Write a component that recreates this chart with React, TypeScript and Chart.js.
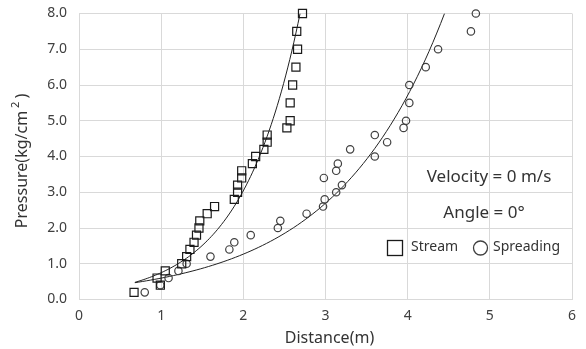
import React, { useEffect, useRef } from "react";
import { Chart, registerables } from "chart.js";

Chart.register(...registerables);

// ---- data ----
const streamX = [0.67, 0.95, 0.99, 1.05, 1.25, 1.31, 1.35, 1.40, 1.43, 1.46, 1.47, 1.56, 1.65, 1.89, 1.93, 1.93, 1.98, 1.98, 2.11, 2.15, 2.25, 2.29, 2.29, 2.53, 2.57, 2.57, 2.60, 2.64, 2.66, 2.65, 2.72];
const streamY = [0.2, 0.6, 0.4, 0.8, 1.0, 1.2, 1.4, 1.6, 1.8, 2.0, 2.2, 2.4, 2.6, 2.8, 3.0, 3.2, 3.4, 3.6, 3.8, 4.0, 4.2, 4.4, 4.6, 4.8, 5.0, 5.5, 6.0, 6.5, 7.0, 7.5, 8.0];

const spreadX = [0.80, 0.99, 1.09, 1.21, 1.31, 1.60, 1.83, 1.89, 2.09, 2.42, 2.45, 2.77, 2.97, 2.99, 3.13, 3.20, 2.98, 3.13, 3.15, 3.60, 3.30, 3.75, 3.60, 3.95, 3.98, 4.02, 4.02, 4.22, 4.37, 4.77, 4.83];
const spreadY = [0.2, 0.4, 0.6, 0.8, 1.0, 1.2, 1.4, 1.6, 1.8, 2.0, 2.2, 2.4, 2.6, 2.8, 3.0, 3.2, 3.4, 3.6, 3.8, 4.0, 4.2, 4.4, 4.6, 4.8, 5.0, 5.5, 6.0, 6.5, 7.0, 7.5, 8.0];

// exponential trendlines y = a * e^(b x), coefficients
const streamTrend = { a: 0.185, b: 1.4, xStart: 0.68 };
const spreadTrend = { a: 0.282, b: 0.752, xStart: 0.68 };

const xMin = 0, xMax = 6, xStep = 1;
const yMin = 0, yMax = 8, yStep = 1;

const seriesNames = ["Stream", "Spreading"];
const xTitle = "Distance(m)";
const yTitleMain = "Pressure(kg/cm";
const yTitleSup = "2";
const yTitleEnd = ")";
const noteLines = ["Velocity = 0 m/s", "Angle = 0°"];

const FONT = "'Noto Sans', 'Open Sans', sans-serif";
const TEXT = "#333333";

function trendPoints(t: { a: number; b: number; xStart: number }) {
  const xEnd = Math.log(yMax / t.a) / t.b;
  const n = 80;
  const pts: { x: number; y: number }[] = [];
  for (let i = 0; i <= n; i++) {
    const x = t.xStart + ((xEnd - t.xStart) * i) / n;
    pts.push({ x, y: t.a * Math.exp(t.b * x) });
  }
  return pts;
}

const overlay = {
  id: "overlay",
  afterDraw(chart: any) {
    const ctx = chart.ctx as CanvasRenderingContext2D;
    const area = chart.chartArea;
    ctx.save();
    ctx.fillStyle = TEXT;

    // x title
    ctx.font = `16px ${FONT}`;
    ctx.textAlign = "center";
    ctx.textBaseline = "middle";
    ctx.fillText(xTitle, (area.left + area.right) / 2 + 4, 338);

    // y title with superscript
    ctx.save();
    ctx.translate(22, 161);
    ctx.rotate(-Math.PI / 2);
    ctx.font = `16px ${FONT}`;
    const w1 = ctx.measureText(yTitleMain).width;
    ctx.font = `11px ${FONT}`;
    const w2 = ctx.measureText(yTitleSup).width + 6;
    ctx.font = `16px ${FONT}`;
    const w3 = ctx.measureText(yTitleEnd).width;
    const total = w1 + w2 + w3;
    const x0 = -total / 2;
    ctx.textAlign = "left";
    ctx.textBaseline = "middle";
    ctx.fillText(yTitleMain, x0, 0);
    ctx.font = `11px ${FONT}`;
    ctx.fillText(yTitleSup, x0 + w1 + 3, -6);
    ctx.font = `16px ${FONT}`;
    ctx.fillText(yTitleEnd, x0 + w1 + w2, 0);
    ctx.restore();

    // notes
    ctx.font = `17px ${FONT}`;
    ctx.textAlign = "center";
    ctx.textBaseline = "middle";
    ctx.fillText(noteLines[0], 489, 177);
    ctx.fillText(noteLines[1], 484, 213);

    // legend
    ctx.strokeStyle = "#1a1a1a";
    ctx.lineWidth = 1.3;
    ctx.strokeRect(387.5, 240.5, 15, 15);
    ctx.strokeStyle = "#404040";
    ctx.beginPath();
    ctx.arc(480.5, 248, 7, 0, Math.PI * 2);
    ctx.stroke();
    ctx.font = `14px ${FONT}`;
    ctx.textAlign = "left";
    ctx.fillText(seriesNames[0], 411, 247);
    ctx.fillText(seriesNames[1], 493, 247);
    ctx.restore();
  },
};

export default function App() {
  const ref = useRef<HTMLCanvasElement | null>(null);
  useEffect(() => {
    if (!ref.current) return;
    const chart = new Chart(ref.current, {
      type: "scatter",
      data: {
        datasets: [
          {
            label: seriesNames[0],
            data: streamX.map((x, i) => ({ x, y: streamY[i] })),
            pointStyle: "rect",
            pointRadius: 5.7,
            borderColor: "#1a1a1a",
            backgroundColor: "rgba(0,0,0,0)",
            borderWidth: 1.2,
            showLine: false,
            clip: false,
          },
          {
            label: seriesNames[1],
            data: spreadX.map((x, i) => ({ x, y: spreadY[i] })),
            pointStyle: "circle",
            pointRadius: 3.7,
            borderColor: "#404040",
            backgroundColor: "rgba(0,0,0,0)",
            borderWidth: 1.2,
            showLine: false,
            clip: false,
          },
          {
            label: "streamTrend",
            data: trendPoints(streamTrend),
            showLine: true,
            pointRadius: 0,
            borderColor: "#222222",
            borderWidth: 1,
            tension: 0,
          },
          {
            label: "spreadTrend",
            data: trendPoints(spreadTrend),
            showLine: true,
            pointRadius: 0,
            borderColor: "#222222",
            borderWidth: 1,
            tension: 0,
          },
        ],
      },
      options: {
        animation: false,
        responsive: false,
        layout: { padding: { top: 13.5, right: 14, left: 0, bottom: 0 } },
        plugins: { legend: { display: false }, tooltip: { enabled: false } },
        scales: {
          x: {
            type: "linear",
            min: xMin,
            max: xMax,
            ticks: { stepSize: xStep, padding: 8, color: "#404040", font: { family: FONT, size: 14 } },
            grid: { color: "#d9d9d9", drawTicks: false },
            border: { color: "#d9d9d9" },
            afterFit: (s: any) => { s.height = 49.5; s.paddingLeft = 0; s.paddingRight = 0; },
          },
          y: {
            type: "linear",
            min: yMin,
            max: yMax,
            ticks: {
              stepSize: yStep,
              padding: 12,
              color: "#404040",
              font: { family: FONT, size: 14 },
              callback: (v: any) => Number(v).toFixed(1),
            },
            grid: { color: "#d9d9d9", drawTicks: false },
            border: { color: "#d9d9d9" },
            afterFit: (s: any) => { s.width = 79; s.paddingTop = 0; s.paddingBottom = 0; },
          },
        },
      },
      plugins: [overlay],
    } as any);
    return () => chart.destroy();
  }, []);
  return (
    <div style={{ position: "absolute", left: 0, top: 0, width: 586, height: 349, background: "#fff" }}>
      <canvas ref={ref} width={586} height={349} />
    </div>
  );
}
